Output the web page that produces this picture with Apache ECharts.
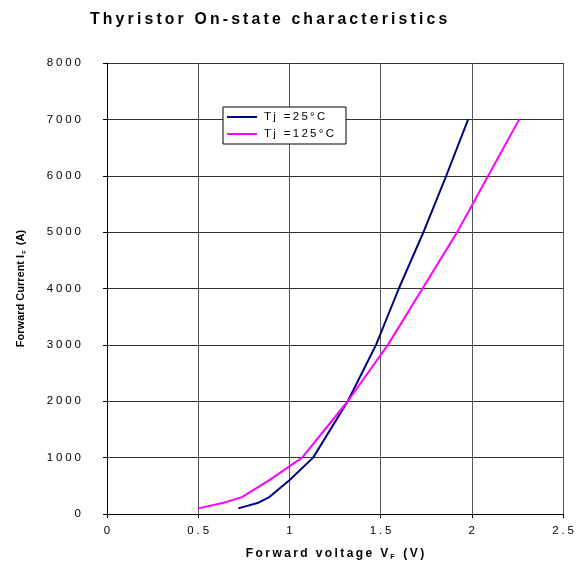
<!DOCTYPE html>
<html>
<head>
<meta charset="utf-8">
<script src="https://cdn.jsdelivr.net/npm/echarts@6/dist/echarts.min.js"></script>
<style>
  html, body { margin: 0; padding: 0; background: #fff; overflow: hidden; }
  #chart { width: 579px; height: 566px; }
</style>
</head>
<body>
<div id="chart"></div>
<script>
// 数据 读自原图
const seriesNames = ["Tj =25°C", "Tj =125°C"]
const vf25 = [0.72, 0.83, 0.89, 1.0, 1.13, 1.32, 1.475, 1.6, 1.735, 1.86, 1.98]
const if25 = [100, 200, 300, 600, 1000, 2000, 3000, 4000, 5000, 6000, 7000]
const vf125 = [0.5, 0.64, 0.74, 0.89, 1.07, 1.32, 1.54, 1.73, 1.92, 2.09, 2.26]
const if125 = [100, 200, 300, 600, 1000, 2000, 3000, 4000, 5000, 6000, 7000]

// 字间距 用细空格模拟
const spaced = (s, sep = "\u2009") => String(s).split("").join(sep)
const pairs = (xs, ys) => xs.map((x, i) => [x, ys[i]])

const myChart = echarts.init(document.getElementById("chart"))
const font = "Liberation Sans, Arial, sans-serif"

const option = {
  animation: false,
  backgroundColor: "#fff",
  title: {
    text: spaced("Thyristor On-state characteristics"),
    left: 85,
    top: 7,
    textStyle: { fontFamily: font, fontSize: 15.8, fontWeight: "bold", color: "#000" },
  },
  legend: {
    orient: "vertical",
    left: 223,
    top: 107,
    padding: [4, 12, 4, 4],
    itemGap: 5,
    itemWidth: 30,
    itemHeight: 2,
    icon: "rect",
    backgroundColor: "#fff",
    borderColor: "#000",
    borderWidth: 1,
    borderRadius: 0,
    data: seriesNames,
    formatter: (name) => spaced(name),
    textStyle: { fontFamily: font, fontSize: 11.5, color: "#000", padding: [0, 0, 0, 2] },
  },
  grid: { left: 107, width: 456, top: 63, height: 457, containLabel: false },
  xAxis: {
    type: "value",
    min: 0,
    max: 2.5,
    interval: 0.5,
    name: "{a|" + spaced("Forward voltage V") + "}{s|F}{a|" + spaced(" (V)") + "}",
    nameLocation: "middle",
    nameGap: 32,
    nameTextStyle: {
      rich: {
        a: { fontFamily: font, fontSize: 12, fontWeight: "bold", color: "#000" },
        s: { fontFamily: font, fontSize: 7, fontWeight: "bold", color: "#000", padding: [8, 3, 0, 2] },
      },
    },
    axisLine: { show: true, lineStyle: { color: "#000", width: 1 } },
    axisTick: { show: true, length: 4, lineStyle: { color: "#000" } },
    axisLabel: { margin: 11, fontFamily: font, fontSize: 11.5, color: "#000", formatter: (v) => spaced(v, "\u2005") },
    splitLine: { show: true, lineStyle: { color: "#555", width: 1 } },
  },
  yAxis: {
    type: "value",
    min: 0,
    max: 8000,
    interval: 1000,
    name: "{a|Forward Current I}{s|F}{a| (A)}",
    nameLocation: "middle",
    nameGap: 80,
    nameRotate: 90,
    nameTextStyle: {
      rich: {
        a: { fontFamily: font, fontSize: 11, fontWeight: "bold", color: "#000" },
        s: { fontFamily: font, fontSize: 6, fontWeight: "bold", color: "#000", padding: [7, 2, 0, 1] },
      },
    },
    axisLine: { show: true, lineStyle: { color: "#000", width: 1 } },
    axisTick: { show: true, length: 4, lineStyle: { color: "#000" } },
    axisLabel: { margin: 26, fontFamily: font, fontSize: 11.5, color: "#000", formatter: (v) => spaced(v, "\u2005") },
    splitLine: { show: true, lineStyle: { color: "#333", width: 1 } },
  },
  series: [
    {
      name: seriesNames[0],
      type: "line",
      data: pairs(vf25, if25),
      showSymbol: false,
      symbol: "none",
      smooth: false,
      lineStyle: { color: "#000080", width: 2 },
      itemStyle: { color: "#000080" },
    },
    {
      name: seriesNames[1],
      type: "line",
      data: pairs(vf125, if125),
      showSymbol: false,
      symbol: "none",
      smooth: false,
      lineStyle: { color: "#ff00ff", width: 2 },
      itemStyle: { color: "#ff00ff" },
    },
  ],
}
myChart.setOption(option)
</script>
</body>
</html>
